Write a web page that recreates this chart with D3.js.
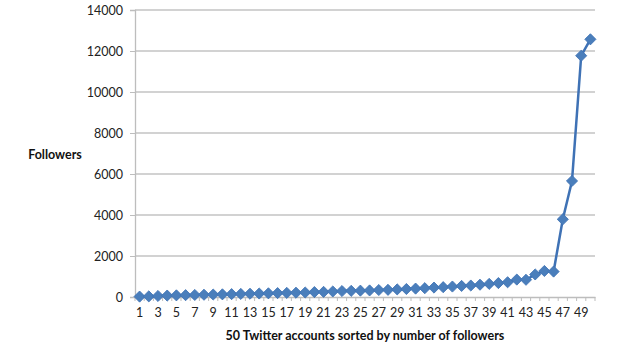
<!DOCTYPE html>
<html><head><meta charset="utf-8">
<script src="https://cdn.jsdelivr.net/npm/d3@7"></script>
<style>body{margin:0;background:#fff}svg{display:block}text{font-family:Lato,"Open Sans",sans-serif}</style>
</head><body><svg id="c" width="640" height="360"></svg>
<script>
const accounts = d3.range(1, 51);
const followers = [20,30,50,70,80,90,100,110,120,130,140,150,160,170,180,190,200,210,220,240,250,270,290,300,310,320,340,350,370,390,410,430,460,480,510,540,560,600,640,680,720,850,840,1100,1270,1240,3790,5660,11770,12570];
const yTicks = [0,2000,4000,6000,8000,10000,12000,14000];
const xTickLabels = accounts.filter(d => d % 2 === 1);
const yTitle = "Followers";
const xTitle = "50 Twitter accounts sorted by number of followers";

const svg = d3.select("#c");
const L = 135, R = 595, T = 10, B = 297;
const x = d3.scaleBand().domain(accounts).range([L, R]);
const y = d3.scaleLinear().domain([0, 14000]).range([B, T]);

// gridlines
svg.append("g").selectAll("line").data(yTicks.filter(d => d > 0)).join("line")
  .attr("x1", L).attr("x2", R).attr("y1", d => y(d)).attr("y2", d => y(d))
  .attr("stroke", "#c3c3c3").attr("stroke-width", 1.3);

// y axis
const ya = svg.append("g").attr("transform", `translate(${L},0)`)
  .call(d3.axisLeft(y).tickValues(yTicks).tickSize(5).tickPadding(7).tickFormat(d3.format("d")));
ya.select(".domain").attr("stroke", "#bdbdbd").attr("stroke-width", 1.3);
ya.selectAll(".tick line").attr("stroke", "#bdbdbd");
ya.selectAll("text").attr("font-size", 12.5).attr("fill", "#222");

// x axis
const xa = svg.append("g").attr("transform", `translate(0,${B})`)
  .call(d3.axisBottom(x).tickValues(xTickLabels).tickSize(0).tickPadding(11));
xa.select(".domain").attr("stroke", "#bdbdbd").attr("stroke-width", 1.3);
xa.selectAll("text").attr("font-size", 12.5).attr("fill", "#222");
// boundary ticks
svg.append("g").selectAll("line").data(accounts.concat([51])).join("line")
  .attr("x1", d => d <= 50 ? x(d) : R).attr("x2", d => d <= 50 ? x(d) : R)
  .attr("y1", B).attr("y2", B + 4).attr("stroke", "#bdbdbd");

// line
const cx = d => x(d) + x.bandwidth() / 2;
svg.append("path").datum(accounts)
  .attr("fill", "none").attr("stroke", "#3f72b5").attr("stroke-width", 2.5)
  .attr("d", d3.line().x(d => cx(d)).y((d, i) => y(followers[i])));

// markers
svg.append("g").selectAll("path").data(accounts).join("path")
  .attr("d", d3.symbol().type(d3.symbolSquare).size(62))
  .attr("transform", (d, i) => `translate(${cx(d)},${y(followers[i])}) rotate(45)`)
  .attr("fill", "#4a7ebb").attr("stroke", "#3f72b5").attr("stroke-width", 0.8);

// titles
svg.append("text").attr("x", 55).attr("y", 159).attr("text-anchor", "middle")
  .attr("font-size", 12.5).attr("font-weight", "bold").attr("fill", "#111").text(yTitle);
svg.append("text").attr("x", 365).attr("y", 340).attr("text-anchor", "middle")
  .attr("font-size", 12.5).attr("font-weight", "bold").attr("fill", "#111").text(xTitle);
</script></body></html>
